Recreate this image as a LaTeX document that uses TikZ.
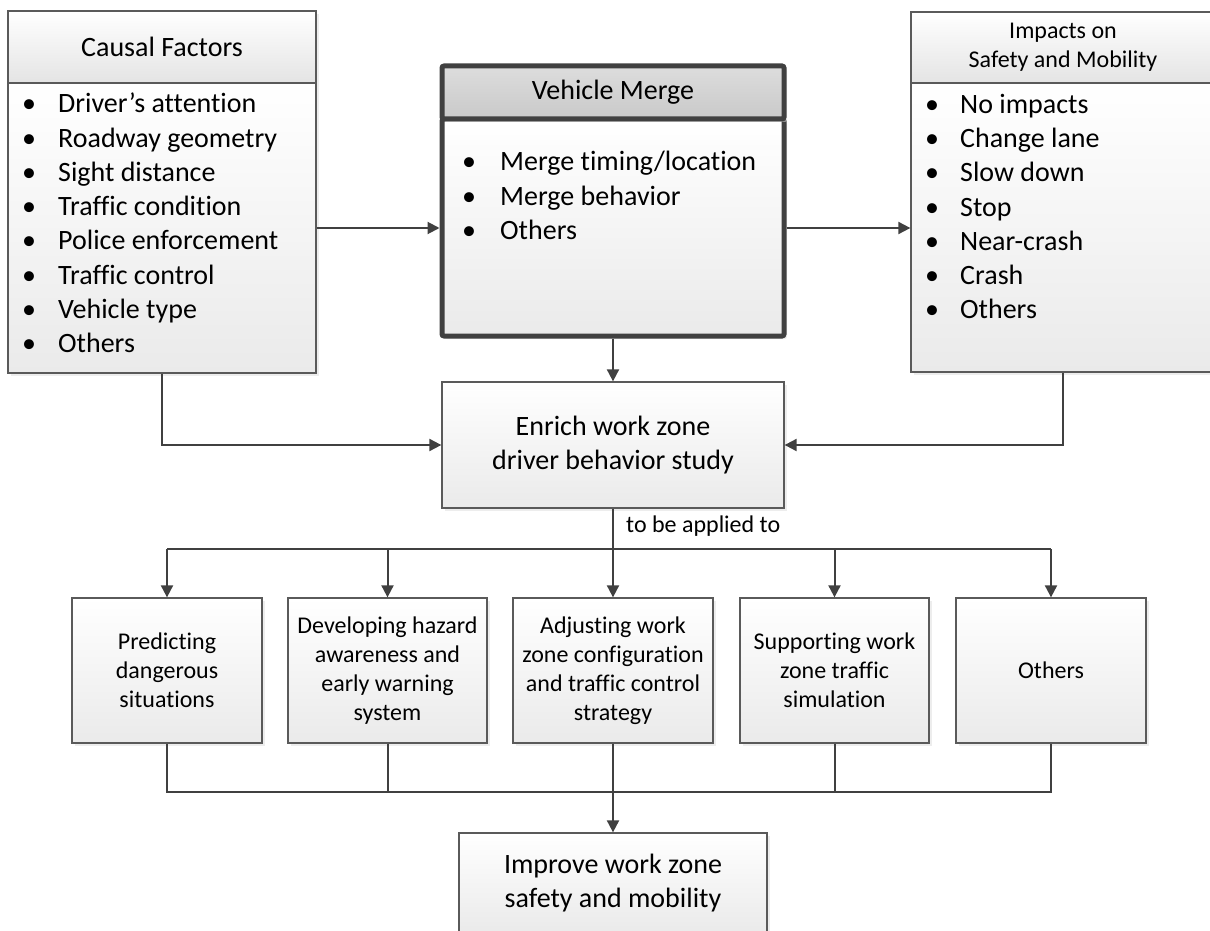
\documentclass[tikz,border=0pt]{standalone}
\usepackage{fontspec}
\setmainfont{Carlito}[Ligatures=NoCommon]
\usetikzlibrary{arrows.meta,shadows}
\definecolor{linec}{HTML}{404040}
\definecolor{boxc}{HTML}{5A5A5A}
\definecolor{botc}{HTML}{EAEAEA}
\definecolor{hdrc}{HTML}{E4E4E4}
\definecolor{vmtop}{HTML}{DDDDDD}
\definecolor{vmbot}{HTML}{C9C9C9}
\newcommand\fbig{\fontsize{28}{34}\selectfont}
\newcommand\fsml{\fontsize{24}{29}\selectfont}
\newcommand\bul[1]{\llap{\makebox[0pt]{•}\hspace{#1pt}}}
\tikzset{
  shad/.style={drop shadow={shadow xshift=3pt,shadow yshift=-3pt,fill=black!14}},
  box/.style={draw=boxc, line width=1.3pt, top color=white, bottom color=botc, shad, inner sep=0pt, align=center},
  hdr/.style={box, bottom color=hdrc},
  vmbox/.style={draw=linec, line width=5pt, rounded corners=2pt, top color=white, bottom color=botc, shad, inner sep=0pt},
  vmhdr/.style={vmbox, top color=vmtop, bottom color=vmbot},
  conn/.style={draw=linec, line width=2pt},
  arr/.style={conn, -{Triangle[width=12pt,length=12pt]}},
  item/.style={anchor=base west, inner sep=0pt, font=\fbig},
}
\begin{document}
\begin{tikzpicture}[x=1pt,y=-1pt]
\useasboundingbox (0,0) rectangle (1210,931);
\clip (0,0) rectangle (1210,931);

% Causal factors
\node[hdr, minimum width=308pt, minimum height=72pt, font=\fbig] (cfh) at (162,47) {Causal Factors};
\node[box, minimum width=308pt, minimum height=290pt] (cfb) at (162,228) {};
\foreach \t [count=\i] in {Driver’s attention, Roadway geometry, Sight distance, Traffic condition, Police enforcement, Traffic control, Vehicle type, Others}
  \node[item] (cf\i) at (58,{113+34.2*(\i-1)}) {\bul{29}\t};

% Vehicle merge
\node[vmbox, minimum width=342pt, minimum height=217pt] (vmb) at (613,227.5) {};
\node[vmhdr, minimum width=342pt, minimum height=53pt, font=\fbig] (vmh) at (613,92.5) {Vehicle Merge};
\foreach \t [count=\i] in {Merge timing/location, Merge behavior, Others}
  \node[item] (vm\i) at (500,{171+34*(\i-1)}) {\bul{31}\t};

% Impacts
\node[hdr, minimum width=304pt, minimum height=71pt, font=\fsml] (imh) at (1063,47.5) {Impacts on\\Safety and Mobility};
\node[box, minimum width=304pt, minimum height=289pt] (imb) at (1063,227.5) {};
\foreach \t [count=\i] in {No impacts, Change lane, Slow down, Stop, Near-crash, Crash, Others}
  \node[item] (im\i) at (960,{114+34*(\i-1)}) {\bul{28}\t};

% Enrich
\node[box, minimum width=342pt, minimum height=126pt, font=\fbig] (en) at (613,445) {Enrich work zone\\driver behavior study};

% application boxes
\node[box, minimum width=190pt, minimum height=145pt, font=\fsml] (pr) at (167,670.5) {Predicting\\dangerous\\situations};
\node[box, minimum width=199pt, minimum height=145pt, font=\fsml] (dv) at (387.5,670.5) {Developing hazard\\awareness and\\early warning\\system};
\node[box, minimum width=200pt, minimum height=145pt, font=\fsml] (ad) at (613,670.5) {Adjusting work\\zone configuration\\and traffic control\\strategy};
\node[box, minimum width=189pt, minimum height=145pt, font=\fsml] (su) at (834.5,670.5) {Supporting work\\zone traffic\\simulation};
\node[box, minimum width=190pt, minimum height=145pt, font=\fsml] (ot) at (1051,670.5) {Others};

% Improve
\node[box, minimum width=308pt, minimum height=100pt, font=\fbig] (ip) at (613,883) {Improve work zone\\safety and mobility};

% connectors top
\draw[arr] (cfb.east |- 0,228) -- (vmb.west |- 0,228);
\draw[arr] (vmb.east |- 0,228) -- (imb.west |- 0,228);
\draw[arr] (vmb.south) -- (en.north);
\draw[arr] (cfb.south) |- (en.west);
\draw[arr] (imb.south) |- (en.east);

% split
\coordinate (sp) at (613,549);
\draw[conn] (en.south) -- (sp);
\draw[conn] (pr.north |- sp) -- (ot.north |- sp);
\draw[arr] (pr.north |- sp) -- (pr.north);
\draw[arr] (dv.north |- sp) -- (dv.north);
\draw[arr] (sp) -- (ad.north);
\draw[arr] (su.north |- sp) -- (su.north);
\draw[arr] (ot.north |- sp) -- (ot.north);
\node[anchor=base west, inner sep=0pt, font=\fsml] (lbl) at (626,532) {to be applied to};

% join
\coordinate (jn) at (613,792);
\draw[conn] (pr.south) -- (pr.south |- jn) -- (ot.south |- jn) -- (ot.south);
\draw[conn] (dv.south) -- (dv.south |- jn);
\draw[conn] (su.south) -- (su.south |- jn);
\draw[arr] (ad.south) -- (ip.north);
\end{tikzpicture}
\end{document}
